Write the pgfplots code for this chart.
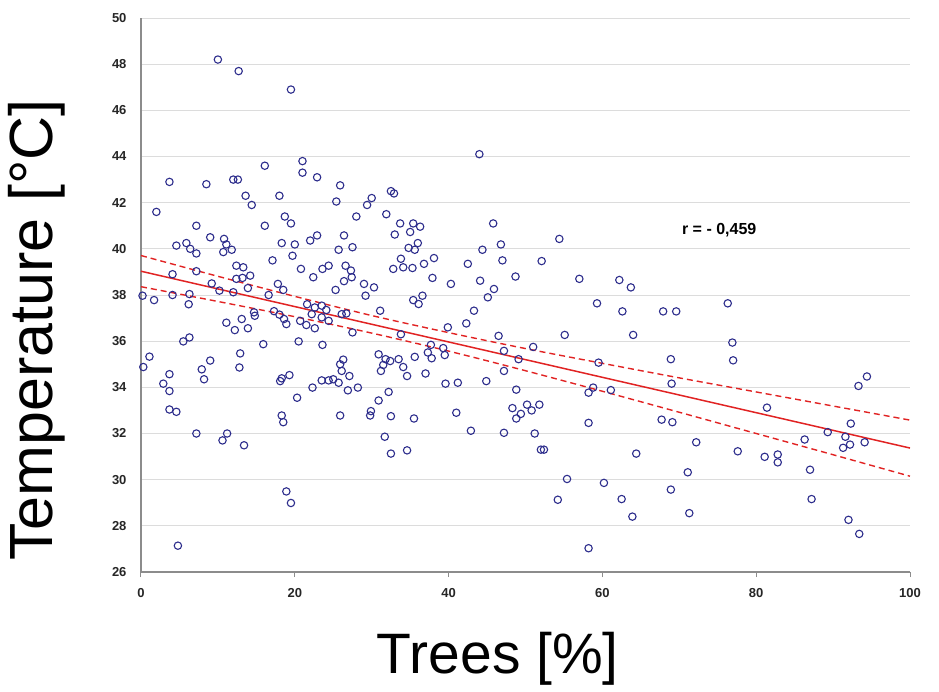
\documentclass[border=0pt]{standalone}
\usepackage{fontspec}
\setmainfont{Liberation Sans}
\usepackage{pgfplots}
\pgfplotsset{compat=1.18}
\definecolor{ptblue}{RGB}{45,45,140}
\definecolor{lred}{RGB}{225,35,35}
\definecolor{gridgray}{RGB}{220,220,220}
\definecolor{axgray}{RGB}{140,140,140}
\begin{document}
\begin{tikzpicture}
\begin{axis}[
  at={(0pt,0pt)}, anchor=south west,
  scale only axis, width=769pt, height=554pt,
  xmin=0, xmax=100, ymin=26, ymax=50,
  xtick={0,20,...,100}, ytick={26,28,...,50},
  axis lines*=left,
  axis line style={axgray, line width=1.6pt, -},
  ymajorgrids, grid style={gridgray, line width=1pt},
  tick align=outside, major tick length=5pt,
  tick style={axgray, line width=1pt},
  ytick style={draw=none},
  /pgf/number format/assume math mode=true,
  ticklabel style={font=\fontsize{13}{15}\selectfont\bfseries, text=black!85},
  xticklabel style={yshift=-8pt},
  yticklabel style={xshift=-6pt},
  xlabel={Trees [\%]}, ylabel={Temperature [°C]},
  xlabel style={font=\fontsize{57}{60}\selectfont, at={(axis description cs:0.464,-0.157)}, anchor=center},
  ylabel style={font=\fontsize{61}{64}\selectfont, at={(axis description cs:-0.135,0.437)}, anchor=center},
  clip=false,
]
\addplot[only marks, mark=o, mark size=3.7pt, mark options={ptblue, line width=1.1pt}] coordinates {
(10.0,48.2)(12.7,47.7)(19.5,46.9)(44.0,44.1)
(3.7,42.9)(8.5,42.8)(12.0,43.0)(12.6,43.0)(16.1,43.6)(21.0,43.8)(21.0,43.3)(22.9,43.1)
(13.6,42.3)(14.4,41.9)(18.0,42.3)(2.0,41.6)(7.2,41.0)(16.1,41.0)(18.7,41.4)(19.5,41.1)
(25.9,42.75)(25.4,42.05)(30.0,42.2)(29.4,41.9)(28.0,41.4)(32.5,42.5)(32.9,42.4)(31.9,41.5)
(33.7,41.1)(35.4,41.1)(36.3,40.96)(45.8,41.1)
(4.6,40.14)(5.9,40.25)(6.4,40.0)(7.2,39.8)(9.0,40.5)(10.8,40.43)(11.1,40.19)(10.7,39.86)
(11.8,39.96)(18.3,40.25)(20.0,40.19)(19.7,39.7)(22.0,40.36)(22.9,40.58)(17.1,39.5)(20.8,39.13)
(22.4,38.77)(23.6,39.13)(4.1,38.9)(7.2,39.03)(12.4,39.27)(13.3,39.2)(12.4,38.7)(13.2,38.74)
(14.2,38.84)(9.2,38.5)(13.9,38.3)(10.2,38.19)(12.0,38.12)(17.8,38.48)(18.5,38.22)(16.6,38.0)
(0.2,37.97)(1.7,37.78)(4.1,38.0)(6.3,38.04)(6.2,37.6)(14.7,37.25)(14.8,37.1)(17.3,37.3)
(18.0,37.15)(18.6,36.96)(18.9,36.74)(21.6,37.6)(22.6,37.46)(23.5,37.54)(24.1,37.35)(22.2,37.17)
(23.5,37.03)(24.4,36.88)(20.7,36.88)(21.5,36.7)(22.6,36.56)(11.1,36.8)(12.2,36.48)(13.1,36.96)
(13.9,36.56)(5.5,35.99)(6.3,36.16)(15.9,35.87)(20.5,35.99)(23.6,35.84)(1.1,35.33)(0.3,34.88)
(12.9,35.47)(12.8,34.86)(9.0,35.16)(7.9,34.78)(8.2,34.35)(3.7,34.57)(2.9,34.16)(3.7,33.84)
(18.3,34.39)(19.3,34.53)(18.1,34.27)(22.3,33.99)(23.5,34.3)(24.4,34.3)(20.3,33.55)(3.7,33.04)
(4.6,32.94)
(18.3,32.78)(18.5,32.49)(7.2,32.0)(10.6,31.7)(11.2,32.0)(13.4,31.49)(18.9,29.49)(19.5,28.99)(4.8,27.14)
(33.0,40.62)(35.0,40.73)(26.4,40.58)(25.7,39.96)(27.5,40.07)(34.8,40.04)(35.6,39.96)(36.0,40.25)
(44.4,39.96)(46.8,40.19)(47.0,39.5)(24.4,39.27)(26.6,39.27)(27.3,39.06)(27.4,38.77)(32.8,39.13)
(33.8,39.57)(34.1,39.2)(35.3,39.17)(36.8,39.35)(38.1,39.6)(42.5,39.35)(48.7,38.8)(37.9,38.74)
(40.3,38.48)(44.1,38.62)(45.9,38.26)(45.1,37.9)(26.4,38.6)(25.3,38.22)(29.0,38.48)(30.3,38.33)
(29.2,37.97)(35.4,37.78)(36.6,37.97)(36.1,37.61)(43.3,37.32)(42.3,36.77)(26.1,37.17)(26.7,37.2)
(31.1,37.32)(27.5,36.38)(33.8,36.3)(39.9,36.6)(46.5,36.23)(47.2,35.58)(49.1,35.22)(47.2,34.71)
(37.7,35.84)(37.3,35.51)(37.8,35.26)(39.3,35.7)(39.5,35.4)(35.6,35.32)(37.0,34.6)(30.9,35.43)
(31.8,35.22)(32.4,35.14)(33.5,35.22)(31.5,34.97)(31.2,34.71)(34.1,34.88)(34.6,34.49)(26.3,35.2)
(25.9,35.0)(26.1,34.71)(27.1,34.49)(25.0,34.35)(25.7,34.2)(26.9,33.87)(28.2,33.99)(39.6,34.16)
(41.2,34.2)(44.9,34.27)(48.8,33.9)(32.2,33.8)(30.9,33.43)(29.9,32.97)(29.8,32.78)(32.5,32.75)
(41.0,32.9)(48.3,33.1)(48.8,32.65)(49.4,32.85)(50.2,33.25)(50.8,33.0)(51.8,33.25)
(25.9,32.78)(35.5,32.65)(31.7,31.86)(32.5,31.13)(34.6,31.27)(42.9,32.12)(47.2,32.03)
(54.4,40.43)(52.1,39.47)(57.0,38.7)(62.2,38.65)(63.7,38.33)(59.3,37.64)(62.6,37.29)(67.9,37.29)
(69.6,37.29)(55.1,36.27)(64.0,36.27)(51.0,35.75)(59.5,35.07)(68.9,35.22)(69.0,34.16)(58.2,33.77)
(58.8,33.99)(61.1,33.88)
(58.2,32.46)(67.7,32.6)(69.1,32.49)(51.2,32.0)(52.0,31.3)(52.4,31.3)(64.4,31.13)(72.2,31.62)
(55.4,30.03)(54.2,29.13)(60.2,29.86)(62.5,29.16)(63.9,28.4)(71.1,30.32)(68.9,29.57)(71.3,28.55)(58.2,27.03)
(76.3,37.64)(76.9,35.94)(77.0,35.17)(93.3,34.06)(94.4,34.47)(81.4,33.12)
(92.3,32.43)(89.3,32.06)(91.6,31.86)(91.3,31.38)(92.2,31.52)(94.1,31.62)(86.3,31.74)(77.6,31.23)
(81.1,30.99)(82.8,31.09)(82.8,30.75)(87.0,30.43)(87.2,29.16)(92.0,28.26)(93.4,27.65)
};
\addplot[lred, line width=1.5pt, no marks] coordinates {(0,39.03)(100,31.37)};
\addplot[lred, line width=1.4pt, dashed, dash pattern=on 6pt off 4pt, no marks, smooth] coordinates {
(0,39.71)(10,38.81)(20,37.94)(30,37.11)(40,36.37)(50,35.68)(60,35.04)(70,34.41)(80,33.80)(90,33.19)(100,32.58)};
\addplot[lred, line width=1.4pt, dashed, dash pattern=on 6pt off 4pt, no marks, smooth] coordinates {
(0,38.36)(10,37.72)(20,37.06)(30,36.35)(40,35.57)(50,34.72)(60,33.83)(70,32.92)(80,32.00)(90,31.08)(100,30.15)};
\node[font=\fontsize{16}{18}\selectfont\bfseries, anchor=west] at (axis cs:69.9,40.8) {r = - 0,459};
\end{axis}
\pgfresetboundingbox
\path (-141pt,-119pt) rectangle (798pt,572pt);
\end{tikzpicture}
\end{document}
